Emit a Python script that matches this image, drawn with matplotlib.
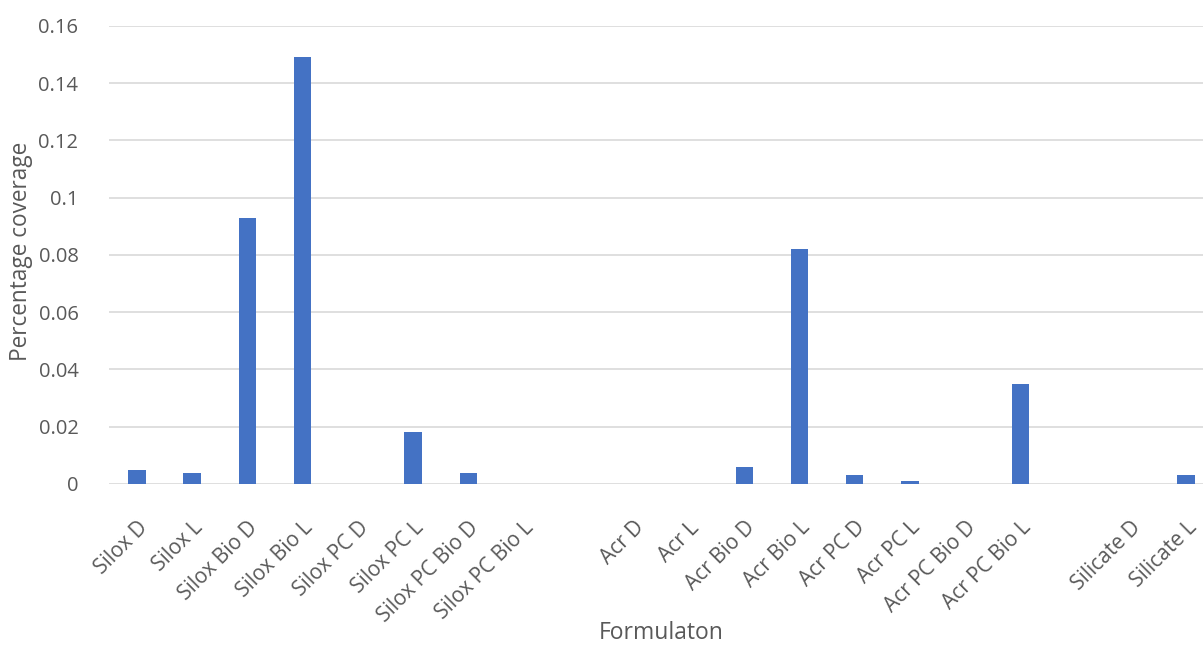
import numpy as np
import matplotlib.pyplot as plt

plt.rcParams['font.family'] = ['Open Sans', 'DejaVu Sans']

# --- data ---
formulations = ["Silox D", "Silox L", "Silox Bio D", "Silox Bio L", "Silox PC D",
                "Silox PC L", "Silox PC Bio D", "Silox PC Bio L", "",
                "Acr D", "Acr L", "Acr Bio D", "Acr Bio L", "Acr PC D",
                "Acr PC L", "Acr PC Bio D", "Acr PC Bio L", "",
                "Silicate D", "Silicate L"]
coverage = [0.005, 0.004, 0.093, 0.149, 0.0,
            0.018, 0.004, 0.0, 0.0,
            0.0, 0.0, 0.006, 0.082, 0.003,
            0.001, 0.0, 0.035, 0.0,
            0.0, 0.003]
yticks = [0, 0.02, 0.04, 0.06, 0.08, 0.1, 0.12, 0.14, 0.16]
ytick_labels = ["0", "0.02", "0.04", "0.06", "0.08", "0.1", "0.12", "0.14", "0.16"]

text_col = "#595959"

fig = plt.figure(figsize=(12.03, 6.47), dpi=100)
ax = fig.add_axes([0.0906, 0.252, 0.9094, 0.708])

x = np.arange(len(formulations))
ax.bar(x, coverage, width=0.315, color="#4472C4", zorder=3)

# plot area runs off the right edge a little, as in the original
ax.set_xlim(-0.507, 19.31)
ax.set_ylim(0, 0.16)
ax.set_yticks(yticks)
ax.set_yticklabels(ytick_labels, fontsize=14.5, color=text_col)
ax.set_xticks(x)
ax.set_xticklabels(formulations, rotation=45, ha="right", rotation_mode="anchor",
                   fontsize=15, color=text_col)

ax.grid(axis="y", color="#D9D9D9", linewidth=1.2, zorder=0)
for s in ax.spines.values():
    s.set_visible(False)
ax.tick_params(axis="both", length=0)
ax.tick_params(axis="y", pad=22)
ax.tick_params(axis="x", pad=24)

# axis titles - x title sits right at the bottom edge
ax.set_xlabel("Formulaton", fontsize=16.5, color=text_col, va="bottom")
ax.xaxis.set_label_coords(0.505, -0.352)
ax.set_ylabel("Percentage coverage", fontsize=16.3, color=text_col)
ax.yaxis.set_label_coords(-0.0695, 0.507)

fig.savefig("out.png", dpi=100)
